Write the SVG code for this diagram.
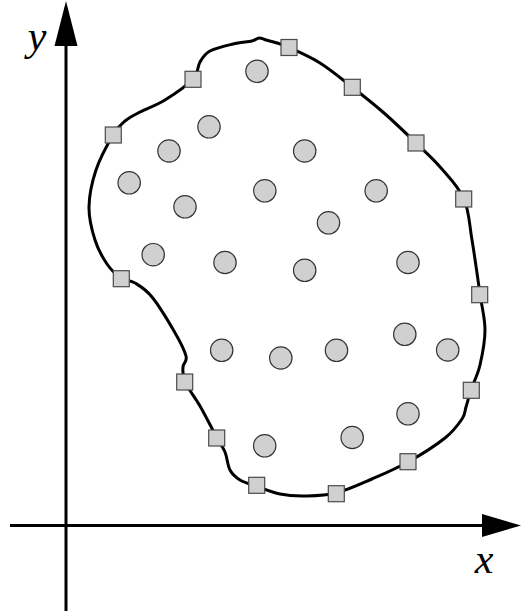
<svg xmlns="http://www.w3.org/2000/svg" width="521" height="613" viewBox="0 0 521 613">
<style>
.ax{stroke:#000;stroke-width:3;fill:none}
.head{fill:#000;stroke:none}
.bd{fill:none;stroke:#000;stroke-width:3;stroke-linejoin:round}
.sq{fill:#d0d0d0;stroke:#4a4a4a;stroke-width:1.2}
.pt{fill:#d0d0d0;stroke:#333;stroke-width:1.2}
.lbl{font-family:"Liberation Serif","DejaVu Serif",serif;font-style:italic;font-size:42px;fill:#000;text-anchor:middle}
</style>
<rect width="521" height="613" fill="#fff"/>
<g id="axes">
<line class="ax" x1="66" y1="611" x2="66" y2="40"/>
<polygon class="head" points="66,1 54.5,46 77.5,46"/>
<line class="ax" x1="10" y1="525.5" x2="486" y2="525.5"/>
<polygon class="head" points="521,525.5 482,514 482,537"/>
<text class="lbl" x="37" y="50">y</text>
<text class="lbl" x="484" y="573">x</text>
</g>
<g id="connectors">
<path class="bd" d="M288,47 C295.2,50.3 309.3,56.3 320,63 S341.3,78.7 352,87 S373.3,103.7 384,113 S406.5,133.8 416,143 S433,158.7 441,168 S458.8,187 464,199 S469.3,224.2 472,240 S477.8,279 480,294 S485,318.2 485,330 S482.3,355 480,365 S473.3,383 471,390 S467.5,402.2 466,407 S465.5,413.8 462,419 S454,430.8 445,438 S420.2,455.2 408,462 S384,473.8 372,479 S347.2,490.2 336,493 S314.3,495.8 305,496 S288.2,495.7 280,494 S262.7,488.3 256,486 S244.3,482.7 240,480 S232.5,474.7 230,470 S227.2,457.3 225,452 S221.2,445.7 217,438 S205.3,415.3 200,406 S187.8,388.5 185,382 S182.8,371.3 183,367 S187.5,362 186,356 S179.7,340.8 174,331 S158.5,305 152,297 S140.2,286.2 135,283 S125.7,281.2 121,278 S111.3,270.3 107,264 S98,249.5 95,240 S88.8,218.7 89,207 S92,182 96,170 S108.2,143.2 113,135 S120.5,124.8 125,121 S133.3,115.5 140,112 S156.2,105.5 165,100 S187.2,85.3 193,79 S197.2,66.7 200,62 S204.5,54 210,51 S226,45.7 233,44 S247.7,42 252,41 S256.7,38.2 259,38 S263,39.2 266,40 S273.3,41.8 277,43 S280.8,43.7 288,47 Z"/>
</g>
<g id="boundary-points">
<rect id="s1" class="sq" x="281" y="39.5" width="16" height="16"/>
<rect id="s2" class="sq" x="344.3" y="79.3" width="16" height="16"/>
<rect id="s3" class="sq" x="408" y="135" width="16" height="16"/>
<rect id="s4" class="sq" x="455.7" y="191" width="16" height="16"/>
<rect id="s5" class="sq" x="471.7" y="286.7" width="16" height="16"/>
<rect id="s6" class="sq" x="463.3" y="382.3" width="16" height="16"/>
<rect id="s7" class="sq" x="400" y="453.7" width="16" height="16"/>
<rect id="s8" class="sq" x="328.3" y="485.7" width="16" height="16"/>
<rect id="s9" class="sq" x="248.7" y="477.3" width="16" height="16"/>
<rect id="s10" class="sq" x="208.7" y="430" width="16" height="16"/>
<rect id="s11" class="sq" x="176.7" y="374" width="16" height="16"/>
<rect id="s12" class="sq" x="113.3" y="270.7" width="16" height="16"/>
<rect id="s13" class="sq" x="105.3" y="127" width="16" height="16"/>
<rect id="s14" class="sq" x="185" y="71.3" width="16" height="16"/>
</g>
<g id="interior-points">
<circle id="c1" class="pt" cx="257" cy="71.3" r="11.2"/>
<circle id="c2" class="pt" cx="209" cy="126.8" r="11.2"/>
<circle id="c3" class="pt" cx="169" cy="151" r="11.2"/>
<circle id="c4" class="pt" cx="304.7" cy="151" r="11.2"/>
<circle id="c5" class="pt" cx="129.2" cy="182.8" r="11.2"/>
<circle id="c6" class="pt" cx="264.8" cy="190.8" r="11.2"/>
<circle id="c7" class="pt" cx="376.2" cy="190.8" r="11.2"/>
<circle id="c8" class="pt" cx="185" cy="206.8" r="11.2"/>
<circle id="c9" class="pt" cx="328.5" cy="222.8" r="11.2"/>
<circle id="c10" class="pt" cx="153.2" cy="254.7" r="11.2"/>
<circle id="c11" class="pt" cx="225" cy="262.5" r="11.2"/>
<circle id="c12" class="pt" cx="304.7" cy="270.3" r="11.2"/>
<circle id="c13" class="pt" cx="408" cy="262.5" r="11.2"/>
<circle id="c14" class="pt" cx="221.7" cy="350.3" r="11.2"/>
<circle id="c15" class="pt" cx="280.8" cy="358" r="11.2"/>
<circle id="c16" class="pt" cx="336.5" cy="350.3" r="11.2"/>
<circle id="c17" class="pt" cx="404.8" cy="334.3" r="11.2"/>
<circle id="c18" class="pt" cx="447.7" cy="350" r="11.2"/>
<circle id="c19" class="pt" cx="408" cy="413.8" r="11.2"/>
<circle id="c20" class="pt" cx="352.2" cy="437.5" r="11.2"/>
<circle id="c21" class="pt" cx="264.7" cy="445.8" r="11.2"/>
</g>
</svg>
